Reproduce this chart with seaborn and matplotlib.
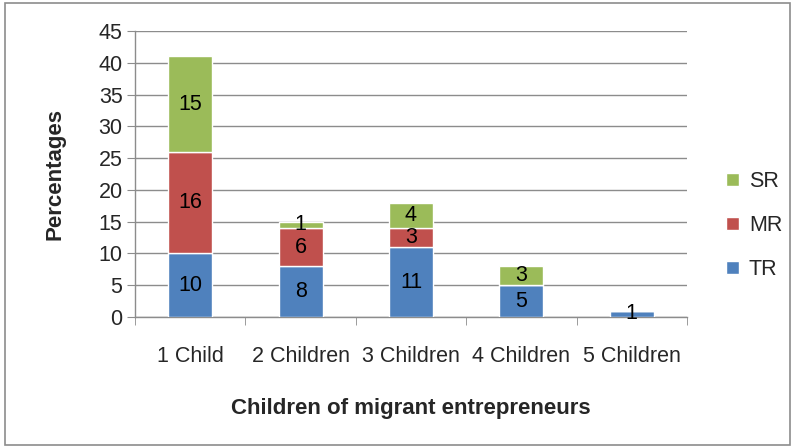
import matplotlib
matplotlib.use("Agg")
import matplotlib.pyplot as plt
import seaborn as sns
import numpy as np
import pandas as pd
from matplotlib.patches import Rectangle

categories = ["1 Child", "2 Children", "3 Children", "4 Children", "5 Children"]
tr = [10, 8, 11, 5, 1]
mr = [16, 6, 3, 0, 0]
sr = [15, 1, 4, 3, 0]
series_names = ["TR", "MR", "SR"]
colors = ["#4F81BD", "#C0504D", "#9BBB59"]

sns.set_style("white")
plt.rcParams["font.family"] = ["Liberation Sans", "DejaVu Sans"]

fig = plt.figure(figsize=(7.95, 4.48), dpi=100)
ax = fig.add_axes([135/795, 1-317/448, (687-135)/795, (317-31)/448])

grid_c = "#8C8C8C"
fs = 15.5
series = [tr, mr, sr]
bottom = np.zeros(len(categories))
for name, vals, col in zip(series_names, series, colors):
    df = pd.DataFrame({"cat": categories, "val": vals})
    sns.barplot(data=df, x="cat", y="val", bottom=bottom, color=col, width=0.4,
                ax=ax, zorder=3, saturation=1, label=name)
    for i, v in enumerate(vals):
        if v > 0:
            ax.text(i, bottom[i] + v/2, str(v), ha="center", va="center",
                    fontsize=fs, color="black", zorder=4)
    bottom = bottom + np.array(vals)

ax.set_ylim(0, 45)
ax.set_xlim(-0.5, 4.5)
ax.set_yticks(np.arange(0, 46, 5))
ax.yaxis.grid(True, color=grid_c, linewidth=1, zorder=0)
ax.set_axisbelow(True)
for s in ["top", "right"]:
    ax.spines[s].set_visible(False)
ax.spines["left"].set_color(grid_c)
ax.spines["bottom"].set_color(grid_c)
ax.spines["left"].set_linewidth(1)
ax.spines["bottom"].set_linewidth(1)

ax.tick_params(axis="y", which="major", length=6, color=grid_c, labelsize=fs, pad=3, left=True)
ax.set_xticks(range(len(categories)))
ax.set_xticklabels(categories, fontsize=fs)
ax.tick_params(axis="x", which="major", length=0, pad=21)
ax.set_xticks(np.arange(-0.5, 5.0, 1.0), minor=True)
ax.tick_params(axis="x", which="minor", length=6, color=grid_c, bottom=True)

ax.set_ylabel("Percentages", fontsize=16, fontweight="bold", labelpad=24)
ax.set_xlabel("Children of migrant entrepreneurs", fontsize=16, fontweight="bold", labelpad=22)

h, l = ax.get_legend_handles_labels()
order = [2, 1, 0]
leg = ax.legend([h[i] for i in order], [l[i] for i in order], loc="center left",
                bbox_to_anchor=(1.036, 0.32), frameon=False, fontsize=fs,
                handlelength=0.6, handleheight=0.6, labelspacing=1.07, handletextpad=0.45)

fig.patches.append(Rectangle((5/795, 3/448), 785/795, 442/448, transform=fig.transFigure,
                             fill=False, edgecolor="#8C8C8C", linewidth=1.2))

fig.savefig("out.png", dpi=100)
